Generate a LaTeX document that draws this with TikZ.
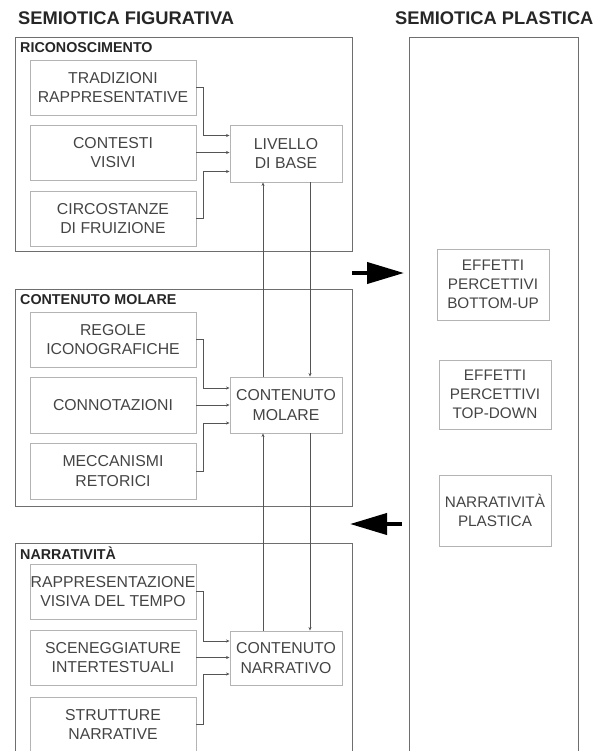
\documentclass[tikz,border=0pt]{standalone}
\usepackage{fontspec}
\setmainfont{Liberation Sans}
\usetikzlibrary{arrows.meta}
\definecolor{txt}{HTML}{444444}
\definecolor{ttl}{HTML}{262626}
\definecolor{outerc}{HTML}{6E6E6E}
\definecolor{innerc}{HTML}{B4B4B4}
\definecolor{connc}{HTML}{555555}
\begin{document}
\begin{tikzpicture}[x=1pt,y=-1pt,
  inbox/.style={draw=innerc, line width=0.9pt, minimum width=166pt, minimum height=55pt,
    align=center, font=\fontsize{15.8}{19.5}\selectfont, text=txt, inner sep=0pt},
  midbox/.style={draw=innerc, line width=0.9pt, minimum width=112pt, minimum height=56pt,
    align=center, font=\fontsize{15.8}{19.5}\selectfont, text=txt, inner sep=0pt},
  plbox/.style={draw=innerc, line width=0.9pt, minimum width=112pt, minimum height=70pt,
    align=center, font=\fontsize{15.3}{19}\selectfont, text=txt, inner sep=0pt},
  outerbox/.style={draw=outerc, line width=1.4pt},
  title/.style={font=\fontsize{18.3}{21}\selectfont\bfseries, text=ttl, inner sep=0pt, anchor=west},
  seclabel/.style={font=\fontsize{14.3}{16}\selectfont\bfseries, text=ttl, inner sep=0pt, anchor=west},
  conn/.style={draw=connc, line width=0.7pt, -{Stealth[length=3.5pt,width=3pt]}},
  bigarrow/.style={line width=4pt, -{Triangle[length=37pt,width=21pt]}}
]
\useasboundingbox (0,0) rectangle (610,751);
\clip (0,0) rectangle (610,751);

% titles
\node[title] (tfig) at (18,18) {SEMIOTICA FIGURATIVA};
\node[title] (tpla) at (395,18) {SEMIOTICA PLASTICA};

% outer boxes
\node[outerbox, minimum width=337pt, minimum height=214pt, anchor=north west, inner sep=0pt] (ric) at (15,37) {};
\node[outerbox, minimum width=337pt, minimum height=217pt, anchor=north west, inner sep=0pt] (mol) at (15,289) {};
\node[outerbox, minimum width=337pt, minimum height=240pt, anchor=north west, inner sep=0pt] (nar) at (15,543) {};
\node[outerbox, minimum width=169pt, minimum height=740pt, anchor=north west, inner sep=0pt] (pla) at (409,37) {};

% section labels
\node[seclabel] (lric) at (20,48) {RICONOSCIMENTO};
\node[seclabel] (lmol) at (20,300) {CONTENUTO MOLARE};
\node[seclabel] (lnar) at (20,553) {NARRATIVITÀ};

% riconoscimento
\node[inbox] (trad) at (113,87.5) {TRADIZIONI\\RAPPRESENTATIVE};
\node[inbox] (cont) at (113,152.5) {CONTESTI\\VISIVI};
\node[inbox] (circ) at (113,218.5) {CIRCOSTANZE\\DI FRUIZIONE};
\node[midbox, minimum height=57pt] (liv) at (286,153.5) {LIVELLO\\DI BASE};

% contenuto molare
\node[inbox] (reg) at (113,339.5) {REGOLE\\ICONOGRAFICHE};
\node[inbox, minimum height=56pt] (conno) at (113,405) {CONNOTAZIONI};
\node[inbox, minimum height=56pt] (mecc) at (113,471) {MECCANISMI\\RETORICI};
\node[midbox] (cm) at (286,405) {CONTENUTO\\MOLARE};

% narrativita
\node[inbox] (rapp) at (113,591.5) {RAPPRESENTAZIONE\\VISIVA DEL TEMPO};
\node[inbox] (scen) at (113,657.5) {SCENEGGIATURE\\INTERTESTUALI};
\node[inbox] (strut) at (113,724.5) {STRUTTURE\\NARRATIVE};
\node[midbox, minimum height=54pt] (cn) at (286,658) {CONTENUTO\\NARRATIVO};

% plastica
\node[plbox, minimum height=71pt] (bu) at (493,284.5) {EFFETTI\\PERCETTIVI\\BOTTOM-UP};
\node[plbox, minimum height=69pt] (td) at (495,394.5) {EFFETTI\\PERCETTIVI\\TOP-DOWN};
\node[plbox, minimum height=71pt] (np) at (495,510.5) {NARRATIVITÀ\\PLASTICA};

% connectors into livello
\draw[conn] (trad.east) -- ++(7,0) |- ([yshift=18pt]liv.west);
\draw[conn] (cont.east) -- (cont.east -| liv.west);
\draw[conn] (circ.east) -- ++(7,0) |- ([yshift=-18pt]liv.west);
% into contenuto molare
\draw[conn] (reg.east) -- ++(7,0) |- ([yshift=17pt]cm.west);
\draw[conn] (conno.east) -- (conno.east -| cm.west);
\draw[conn] (mecc.east) -- ++(7,0) |- ([yshift=-18pt]cm.west);
% into contenuto narrativo
\draw[conn] (rapp.east) -- ++(7,0) |- ([yshift=17pt]cn.west);
\draw[conn] (scen.east) -- (scen.east -| cn.west);
\draw[conn] (strut.east) -- ++(7,0) |- ([yshift=-16pt]cn.west);

% vertical flows
\coordinate (upx) at (263,0);
\coordinate (dnx) at (310,0);
\draw[conn] (cn.north -| upx) -- (cm.south -| upx);
\draw[conn] (cm.north -| upx) -- (liv.south -| upx);
\draw[conn] (liv.south -| dnx) -- (cm.north -| dnx);
\draw[conn] (cm.south -| dnx) -- (cn.north -| dnx);

% big arrows
\coordinate (r1) at (352,273);
\coordinate (r2) at (404,273);
\coordinate (l1) at (402,524);
\coordinate (l2) at (350,524);
\draw[bigarrow] (r1) -- (r2);
\draw[bigarrow] (l1) -- (l2);
\end{tikzpicture}
\end{document}
